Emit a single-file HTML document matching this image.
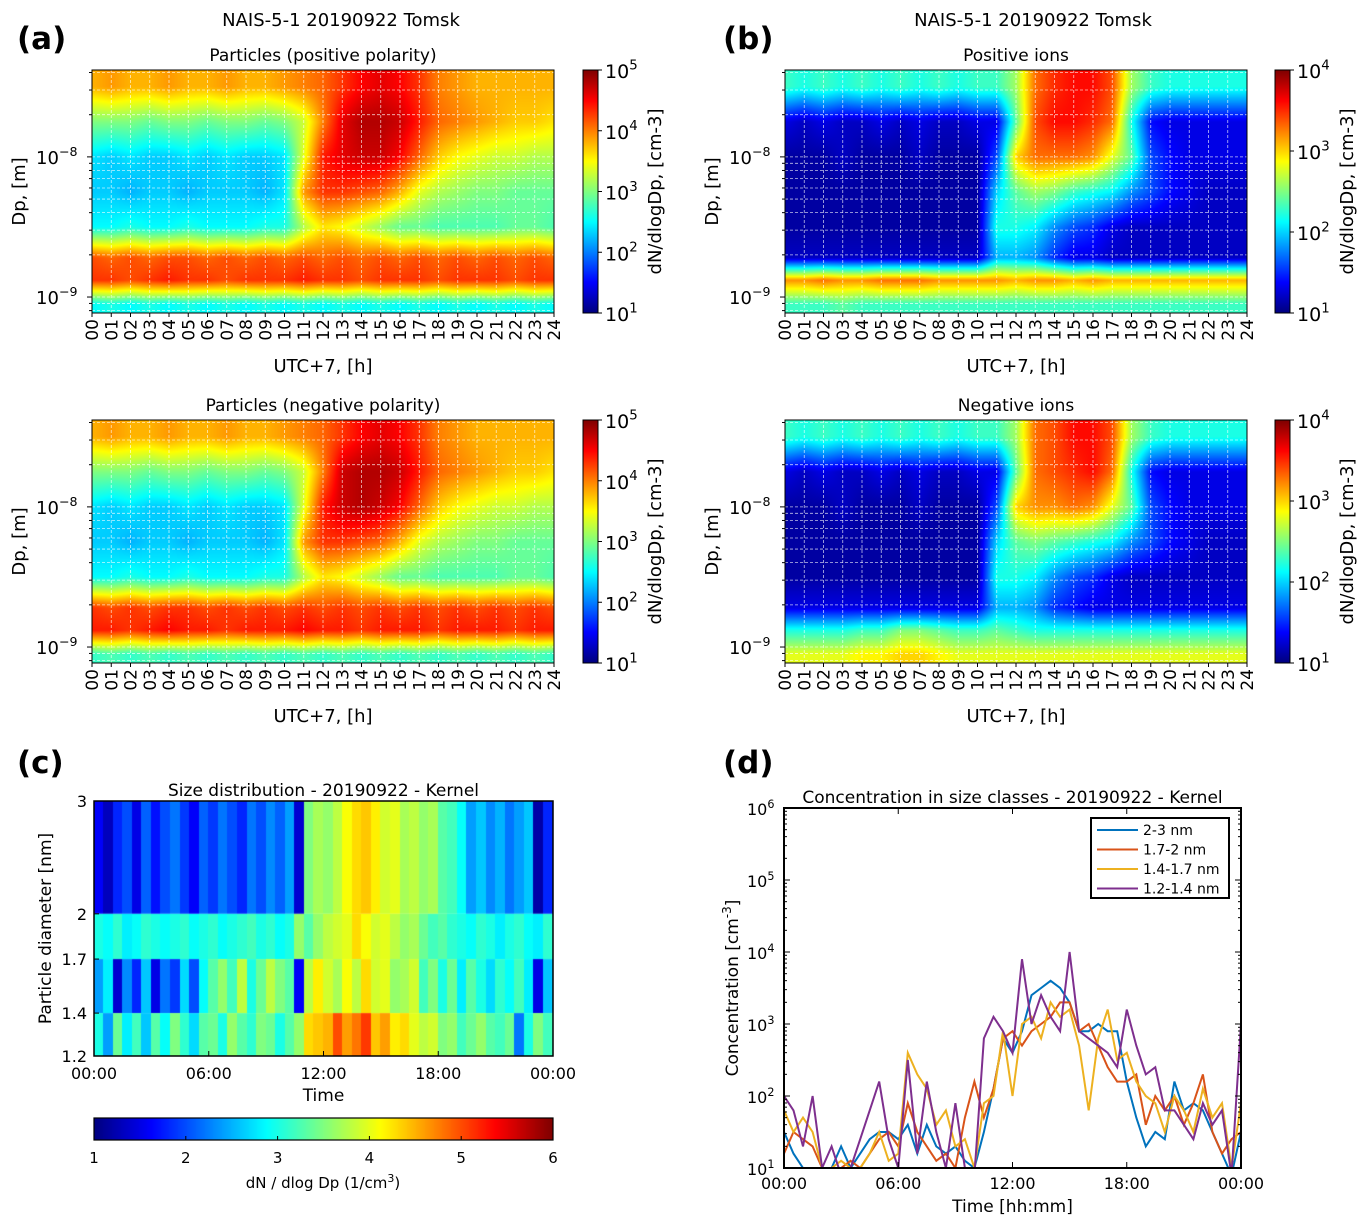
<!DOCTYPE html>
<html><head><meta charset="utf-8"><style>
html,body{margin:0;padding:0;background:#fff;}
#wrap{position:relative;width:1367px;height:1229px;overflow:hidden;font-family:"DejaVu Sans","Liberation Sans",sans-serif;}
canvas{position:absolute;}
svg{position:absolute;left:0;top:0;}
</style></head><body>
<div id="wrap">
<canvas id="hA1"></canvas>
<canvas id="hA2"></canvas>
<canvas id="hB1"></canvas>
<canvas id="hB2"></canvas>
<canvas id="hC"></canvas>
<canvas id="cbA1"></canvas>
<canvas id="cbA2"></canvas>
<canvas id="cbB1"></canvas>
<canvas id="cbB2"></canvas>
<canvas id="cbC"></canvas>
<svg id="ov" width="1367" height="1229" xmlns="http://www.w3.org/2000/svg"></svg>
</div>
<script>
const hours = [0,1,2,3,4,5,6,7,8,9,10,11,12,13,14,15,16,17,18,19,20,21,22,23,24];
const sizeRowsLog = [-7.5,-7.75,-8.0,-8.25,-8.5,-8.72,-8.88,-9.05];
const A1 = [
[3.8,3.9,3.8,3.8,3.9,3.8,3.8,3.9,3.8,3.8,3.9,4.0,4.1,4.3,4.5,4.6,4.5,4.3,4.0,3.9,3.8,3.8,3.8,3.8,3.8],
[3.0,3.0,3.0,2.9,3.0,3.0,2.9,3.0,3.0,2.9,3.0,3.3,4.0,4.6,4.8,4.8,4.7,4.4,4.1,4.0,3.9,3.8,3.7,3.7,3.6],
[2.4,2.3,2.4,2.3,2.3,2.4,2.3,2.4,2.3,2.3,2.4,3.4,4.4,4.6,4.7,4.7,4.5,4.1,3.7,3.5,3.4,3.3,3.3,3.2,3.2],
[2.3,2.3,2.2,2.3,2.3,2.2,2.3,2.3,2.3,2.2,2.4,3.9,4.3,4.3,4.2,4.1,3.8,3.4,3.2,3.1,3.0,3.0,2.9,2.9,2.9],
[2.5,2.5,2.6,2.5,2.5,2.6,2.5,2.5,2.5,2.6,2.6,3.2,3.6,3.5,3.3,3.1,2.9,2.9,2.8,2.8,2.8,2.8,2.9,2.9,2.8],
[4.2,4.1,4.2,4.1,4.2,4.2,4.1,4.2,4.1,4.2,4.1,4.2,4.1,4.2,4.1,4.2,4.1,4.2,4.1,4.2,4.1,4.2,4.1,4.2,4.1],
[4.3,4.3,4.2,4.3,4.4,4.3,4.3,4.2,4.3,4.3,4.3,4.4,4.3,4.3,4.2,4.3,4.3,4.3,4.2,4.3,4.3,4.3,4.2,4.3,4.3],
[2.5,2.6,2.5,2.6,2.5,2.6,2.5,2.6,2.5,2.6,2.5,2.6,2.5,2.6,2.5,2.6,2.5,2.6,2.5,2.6,2.5,2.6,2.5,2.6,2.5]];
const A2 = [
[3.8,3.9,3.8,3.8,3.9,3.8,3.8,3.9,3.8,3.8,3.9,4.0,4.1,4.3,4.5,4.6,4.5,4.3,4.0,3.9,3.8,3.8,3.8,3.8,3.8],
[3.0,3.0,3.0,2.9,3.0,3.0,2.9,3.0,3.0,2.9,3.0,3.3,4.0,4.7,4.8,4.8,4.7,4.4,4.1,4.0,3.9,3.8,3.7,3.7,3.6],
[2.4,2.3,2.4,2.3,2.3,2.4,2.3,2.4,2.3,2.3,2.4,3.4,4.4,4.7,4.8,4.7,4.5,4.1,3.7,3.5,3.4,3.3,3.3,3.2,3.2],
[2.3,2.3,2.2,2.3,2.3,2.2,2.3,2.3,2.3,2.2,2.4,3.9,4.3,4.3,4.2,4.1,3.8,3.4,3.2,3.1,3.0,3.0,2.9,2.9,2.9],
[2.5,2.5,2.6,2.5,2.5,2.6,2.5,2.5,2.5,2.6,2.6,3.2,3.6,3.5,3.3,3.1,2.9,2.9,2.8,2.8,2.8,2.8,2.9,2.9,2.8],
[4.3,4.2,4.3,4.2,4.3,4.3,4.2,4.3,4.2,4.3,4.2,4.3,4.2,4.3,4.2,4.3,4.2,4.3,4.2,4.3,4.2,4.3,4.2,4.3,4.2],
[4.4,4.4,4.3,4.4,4.5,4.4,4.4,4.3,4.4,4.4,4.4,4.5,4.4,4.4,4.3,4.4,4.4,4.4,4.3,4.4,4.4,4.4,4.3,4.4,4.4],
[2.7,2.8,2.7,2.8,2.7,2.8,2.7,2.8,2.7,2.8,2.7,2.8,2.7,2.8,2.7,2.8,2.7,2.8,2.7,2.8,2.7,2.8,2.7,2.8,2.7]];
const B1 = [
[2.3,2.2,2.3,2.2,2.3,2.2,2.3,2.2,2.3,2.2,2.3,2.3,2.6,3.3,3.5,3.6,3.6,3.4,2.6,2.3,2.2,2.2,2.2,2.2,2.2],
[1.3,1.2,1.3,1.2,1.2,1.3,1.2,1.3,1.2,1.2,1.3,1.3,2.4,3.4,3.6,3.6,3.5,3.3,2.2,1.4,1.3,1.3,1.3,1.3,1.3],
[1.1,1.1,1.1,1.2,1.1,1.1,1.1,1.2,1.1,1.1,1.1,1.6,3.0,3.3,3.3,3.3,3.2,2.8,2.4,1.6,1.4,1.3,1.3,1.3,1.3],
[1.1,1.1,1.1,1.1,1.1,1.1,1.1,1.1,1.1,1.1,1.1,2.0,2.4,2.6,2.5,2.3,2.2,2.1,1.8,1.6,1.4,1.3,1.2,1.2,1.2],
[1.1,1.1,1.1,1.1,1.1,1.1,1.1,1.1,1.1,1.1,1.1,2.2,2.2,2.1,1.8,1.6,1.5,1.3,1.2,1.2,1.2,1.2,1.2,1.2,1.2],
[1.2,1.2,1.2,1.2,1.2,1.2,1.2,1.2,1.2,1.2,1.2,1.9,1.9,1.8,1.5,1.3,1.3,1.2,1.2,1.2,1.2,1.2,1.2,1.2,1.2],
[3.2,3.2,3.3,3.2,3.2,3.3,3.3,3.3,3.2,3.2,3.2,3.2,3.1,3.2,3.2,3.1,3.2,3.1,3.1,3.1,3.1,3.1,3.1,3.1,3.1],
[2.3,2.3,2.3,2.4,2.3,2.3,2.3,2.3,2.3,2.3,2.3,2.3,2.3,2.3,2.3,2.3,2.3,2.3,2.3,2.3,2.3,2.3,2.3,2.3,2.3]];
const B2 = [
[2.3,2.2,2.3,2.2,2.3,2.2,2.3,2.2,2.3,2.2,2.3,2.3,2.6,3.3,3.4,3.6,3.6,3.4,2.6,2.3,2.2,2.2,2.2,2.2,2.2],
[1.3,1.2,1.3,1.2,1.2,1.3,1.2,1.3,1.2,1.2,1.3,1.3,2.4,3.3,3.4,3.5,3.6,3.3,2.2,1.4,1.3,1.3,1.3,1.3,1.3],
[1.1,1.1,1.1,1.2,1.1,1.1,1.1,1.2,1.1,1.1,1.1,1.6,3.0,3.2,3.2,3.3,3.2,2.8,2.4,1.6,1.4,1.3,1.3,1.3,1.3],
[1.1,1.1,1.1,1.1,1.1,1.1,1.1,1.1,1.1,1.1,1.1,2.0,2.4,2.5,2.4,2.3,2.2,2.1,1.8,1.6,1.4,1.3,1.2,1.2,1.2],
[1.1,1.1,1.1,1.1,1.1,1.1,1.1,1.1,1.1,1.1,1.1,2.2,2.2,2.1,1.8,1.6,1.5,1.3,1.2,1.2,1.2,1.2,1.2,1.2,1.2],
[1.3,1.3,1.3,1.3,1.3,1.3,1.3,1.3,1.3,1.3,1.3,1.9,1.9,1.8,1.5,1.4,1.3,1.3,1.3,1.3,1.3,1.3,1.3,1.3,1.3],
[2.2,2.2,2.2,2.2,2.3,2.3,2.5,2.5,2.4,2.3,2.3,2.4,2.3,2.2,2.2,2.2,2.2,2.2,2.2,2.2,2.2,2.2,2.2,2.2,2.2],
[2.8,2.8,2.8,2.8,2.9,2.9,3.0,3.0,2.9,2.8,2.8,2.8,2.8,2.8,2.8,2.8,2.8,2.8,2.8,2.8,2.8,2.8,2.8,2.8,2.8]];
const cEdges = [3,2,1.7,1.4,1.2];
const C = [
[1.6,1.3,1.8,2.0,1.5,2.1,1.7,2.0,2.2,1.9,1.6,2.1,1.9,2.2,2.0,1.8,2.2,2.0,2.3,2.1,2.4,1.4,3.5,3.7,3.6,3.8,4.1,4.3,4.4,4.2,3.9,4.0,3.7,3.8,3.6,3.7,3.3,3.2,2.9,2.4,2.6,2.3,2.5,2.2,2.4,2.6,1.2,1.8],
[3.0,2.9,3.1,2.8,2.9,3.1,3.0,2.9,3.0,3.1,2.9,3.0,3.1,2.9,3.0,3.1,3.2,3.0,3.1,2.9,3.0,3.6,3.3,3.6,3.8,3.9,4.0,4.3,4.1,3.9,4.0,3.8,3.6,3.7,3.4,3.2,3.3,3.1,3.0,2.9,3.1,3.0,2.8,3.0,3.1,2.9,2.8,3.1],
[2.4,2.8,1.4,2.3,1.8,2.6,1.5,2.2,1.9,2.7,2.0,2.9,3.3,3.6,3.2,3.8,3.0,3.4,3.8,3.5,3.3,1.6,3.8,4.2,3.9,3.7,4.1,3.8,4.3,3.9,4.0,3.6,3.7,3.9,3.2,3.5,3.0,3.4,2.8,3.3,3.0,2.7,3.1,2.9,3.2,2.8,1.5,2.6],
[3.0,2.4,3.4,2.8,3.2,2.6,3.3,2.9,3.5,3.1,2.7,3.3,3.4,3.0,3.6,3.3,3.1,3.5,3.4,3.0,3.3,3.6,4.3,4.4,4.5,5.0,4.6,4.8,5.1,4.4,4.6,4.2,4.3,4.0,3.8,3.9,3.5,3.6,3.2,3.4,3.6,3.3,3.2,3.4,2.2,3.0,3.5,3.2]];
const dTimes = [0,0.5,1,1.5,2,2.5,3,3.5,4,4.5,5,5.5,6,6.5,7,7.5,8,8.5,9,9.5,10,10.5,11,11.5,12,12.5,13,13.5,14,14.5,15,15.5,16,16.5,17,17.5,18,18.5,19,19.5,20,20.5,21,21.5,22,22.5,23,23.5,24];
const s23 = [1.5,1.2,1.0,1.0,0.9,1.0,1.3,1.0,1.2,1.4,1.5,1.5,1.4,1.6,1.2,1.6,1.3,1.2,1.3,1.1,1.0,1.5,2.1,2.8,2.6,2.9,3.4,3.5,3.6,3.5,3.3,2.9,2.9,3.0,2.9,2.9,2.2,1.7,1.3,1.5,1.4,2.2,1.8,1.9,1.8,1.5,1.2,0.9,1.5];
const s172 = [1.2,1.5,1.4,1.3,1.0,1.0,1.0,1.1,1.0,1.2,1.4,1.5,1.3,1.9,1.5,1.3,1.1,1.2,1.0,1.7,2.2,1.7,2.1,2.8,2.9,2.7,2.9,3.0,3.1,3.3,3.3,2.9,3.0,2.7,2.4,2.2,2.2,2.3,1.6,2.0,1.8,2.0,1.6,1.9,2.3,1.5,1.2,1.4,1.5];
const s1417 = [1.8,1.5,1.7,1.5,1.0,1.0,1.1,1.0,1.0,1.2,1.5,1.1,1.2,2.6,2.3,2.1,1.6,1.8,1.3,1.4,1.0,1.9,2.0,2.9,2.0,3.0,3.1,2.8,3.3,3.1,3.2,2.7,1.8,2.8,3.2,2.5,2.6,2.2,2.0,1.9,1.5,2.0,1.8,1.5,2.1,1.7,1.9,1.0,1.9];
const s1214 = [2.0,1.8,1.3,2.0,1.0,1.3,0.9,1.0,1.4,1.8,2.2,1.4,1.0,2.5,1.2,2.2,1.5,1.0,1.9,1.0,0.9,2.8,3.1,2.9,2.6,3.9,3.0,3.4,3.1,2.9,4.0,2.9,2.8,2.7,2.6,2.4,3.2,2.7,2.3,2.4,1.8,1.8,1.6,1.4,1.9,1.6,1.8,0.9,3.0];
function jet(t){t=Math.max(0,Math.min(1,t));const c=v=>Math.round(255*Math.max(0,Math.min(1,v)));
 return [c(1.5-Math.abs(4*t-3)),c(1.5-Math.abs(4*t-2)),c(1.5-Math.abs(4*t-1))];}
function place(id,x,y,w,h){const c=document.getElementById(id);c.width=w;c.height=h;c.style.left=x+'px';c.style.top=y+'px';return c;}
function smoothHeat(id,x,y,w,h,data,vmin,vmax,topLog,botLog){
 const c=place(id,x,y,w,h),ctx=c.getContext('2d');
 const ncol=hours.length,nrow=sizeRowsLog.length;
 const im=ctx.createImageData(w,h);
 const xs=hx=>(hx/24)*(ncol-1);
 for(let py=0;py<h;py++){
  const lg=topLog-(py+0.5)/h*(topLog-botLog);
  let r=0;while(r<nrow-2&&lg<sizeRowsLog[r+1])r++;
  let fr=(sizeRowsLog[r]-lg)/(sizeRowsLog[r]-sizeRowsLog[r+1]);fr=Math.max(0,Math.min(1,fr));
  for(let px=0;px<w;px++){
   const hx=(px+0.5)/w*24;let cc=Math.min(ncol-2,Math.floor(xs(hx)));let fc=xs(hx)-cc;
   const v=(data[r][cc]*(1-fc)+data[r][cc+1]*fc)*(1-fr)+(data[r+1][cc]*(1-fc)+data[r+1][cc+1]*fc)*fr;
   const col=jet((v-vmin)/(vmax-vmin));const i=(py*w+px)*4;
   im.data[i]=col[0];im.data[i+1]=col[1];im.data[i+2]=col[2];im.data[i+3]=255;}}
 ctx.putImageData(im,0,0);}
function cbar(id,x,y,w,h,vertical){const c=place(id,x,y,w,h),ctx=c.getContext('2d');
 if(vertical){for(let py=0;py<h;py++){const k=jet(1-py/(h-1));ctx.fillStyle=`rgb(${k})`;ctx.fillRect(0,py,w,1);}}
 else{for(let px=0;px<w;px++){const k=jet(px/(w-1));ctx.fillStyle=`rgb(${k})`;ctx.fillRect(px,0,1,h);}}}
const NS='http://www.w3.org/2000/svg',ov=document.getElementById('ov');
function el(tag,attrs,parent){const e=document.createElementNS(NS,tag);for(const k in attrs)e.setAttribute(k,attrs[k]);(parent||ov).appendChild(e);return e;}
function txt(x,y,s,size,anchor,name,extra){const t=el('text',Object.assign({x:x,y:y,'font-size':size,'text-anchor':anchor||'middle',fill:'#000'},extra||{}));t.textContent=s;
 
 
 return t;}
function pow10(x,y,exp,size,anchor,name){const t=el('text',{x:x,y:y,'font-size':size,'text-anchor':anchor||'start',fill:'#000'});
 
 
 const a=el('tspan',{},t);a.textContent='10';const b=el('tspan',{dy:-size*0.45,'font-size':size*0.7},t);b.textContent=exp;return t;}
const panels=[
 {id:'A1',data:A1,x:92,y:70,vmin:1,vmax:5,cb:'cbA1',cx:583,title:'Particles (positive polarity)'},
 {id:'A2',data:A2,x:92,y:420,vmin:1,vmax:5,cb:'cbA2',cx:583,title:'Particles (negative polarity)'},
 {id:'B1',data:B1,x:785,y:70,vmin:1,vmax:4,cb:'cbB1',cx:1275,title:'Positive ions'},
 {id:'B2',data:B2,x:785,y:420,vmin:1,vmax:4,cb:'cbB2',cx:1275,title:'Negative ions'}];
const W=462,H=243,topLog=-7.38,botLog=-9.114;
panels.forEach(p=>{
 smoothHeat('h'+p.id,p.x,p.y,W,H,p.data,p.vmin,p.vmax,topLog,botLog);
 cbar(p.cb,p.cx,p.y,15,H,true);
 const ys=lg=>p.y+(topLog-lg)/(topLog-botLog)*H;
 const g=el('g',{});
 
 
 hours.forEach(hh=>{const x=p.x+hh/24*W;el('line',{x1:x,x2:x,y1:p.y,y2:p.y+H,stroke:'#fff','stroke-width':0.8,'stroke-dasharray':'3,2',opacity:0.75},g);
  el('line',{x1:x,x2:x,y1:p.y+H,y2:p.y+H+4,stroke:'#000','stroke-width':1});
  txt(0,0,String(hh).padStart(2,'0'),17,'end','x-tick-label',{transform:`translate(${x+6},${p.y+H+6}) rotate(-90)`});});
 for(let d=-10;d<=-7;d++)for(let m=1;m<10;m++){const lg=d+Math.log10(m);if(lg>topLog||lg<botLog)continue;const y=ys(lg);
  el('line',{x1:p.x,x2:p.x+W,y1:y,y2:y,stroke:'#fff','stroke-width':0.8,'stroke-dasharray':'3,2',opacity:0.75},g);
  el('line',{x1:p.x-(m==1?5:3),x2:p.x,y1:y,y2:y,stroke:'#000','stroke-width':1});}
 [-8,-9].forEach(e=>pow10(p.x-56,ys(e)+7,'−'+(-e),18,'start','y-tick-label'));
 el('rect',{x:p.x,y:p.y,width:W,height:H,fill:'none',stroke:'#000','stroke-width':1});
 el('rect',{x:p.cx,y:p.y,width:15,height:H,fill:'none',stroke:'#000','stroke-width':1});
 const n=p.vmax-p.vmin;for(let i=0;i<=n;i++){const y=p.y+H-i*H/n;pow10(p.cx+22,y+8,String(p.vmin+i),19,'start','colorbar-tick-label');
  el('line',{x1:p.cx+15,x2:p.cx+19,y1:y,y2:y,stroke:'#000'});}
 txt(p.x+W/2,p.y-9,p.title,17,'middle','panel-title');
 txt(p.x+W/2,p.y+H+59,'UTC+7, [h]',18,'middle','x-axis-title');
 txt(0,0,'Dp, [m]',18,'middle','y-axis-title',{transform:`translate(${p.x-67},${p.y+H/2}) rotate(-90)`});
 txt(0,0,'dN/dlogDp, [cm-3]',18,'middle','colorbar-title',{transform:`translate(${p.cx+78},${p.y+H/2}) rotate(-90)`});
});
txt(341,26,'NAIS-5-1 20190922 Tomsk',18,'middle','figure-title-a');
txt(1033,26,'NAIS-5-1 20190922 Tomsk',18,'middle','figure-title-b');
txt(17,49,'(a)',31,'start','panel-label-a',{'font-weight':'bold'});
txt(723,49,'(b)',31,'start','panel-label-b',{'font-weight':'bold'});
txt(17,773,'(c)',31,'start','panel-label-c',{'font-weight':'bold'});
txt(723,773,'(d)',31,'start','panel-label-d',{'font-weight':'bold'});
(function(){const x0=94,y0=801,w=459,h=255;const c=place('hC',x0,y0,w,h),ctx=c.getContext('2d');
 const lmax=Math.log10(3),lmin=Math.log10(1.2),ys=v=>(lmax-Math.log10(v))/(lmax-lmin)*h;
 const n=C[0].length;
 C.forEach((row,r)=>{const ya=ys(cEdges[r]),yb=ys(cEdges[r+1]);row.forEach((v,i)=>{const k=jet((v-1)/5);ctx.fillStyle=`rgb(${k})`;
  const xa=Math.floor(i*w/n),xb=Math.floor((i+1)*w/n);ctx.fillRect(xa,ya,xb-xa,yb-ya);});});
 el('rect',{x:x0,y:y0,width:w,height:h,fill:'none',stroke:'#000','stroke-width':1.5});
 cEdges.forEach(v=>{const y=y0+ys(v);txt(x0-7,y+6,String(v),16,'end','y-tick-label');el('line',{x1:x0,x2:x0+5,y1:y,y2:y,stroke:'#000'});});
 ['00:00','06:00','12:00','18:00','00:00'].forEach((s,i)=>{const x=x0+i*w/4;txt(x,y0+h+23,s,16,'middle','x-tick-label');el('line',{x1:x,x2:x,y1:y0+h,y2:y0+h-5,stroke:'#000'});});
 txt(x0+w/2,y0+h+45,'Time',17,'middle','x-axis-title');
 txt(x0+w/2,y0-5,'Size distribution - 20190922 - Kernel',17,'middle','panel-title');
 txt(0,0,'Particle diameter [nm]',17,'middle','y-axis-title',{transform:`translate(51,${y0+h/2}) rotate(-90)`});
 cbar('cbC',94,1118,459,22,false);
 el('rect',{x:94,y:1118,width:459,height:22,fill:'none',stroke:'#000','stroke-width':1.2});
 for(let i=1;i<=6;i++){const x=94+(i-1)*459/5;txt(x,1163,String(i),15,'middle','colorbar-tick-label');el('line',{x1:x,x2:x,y1:1140,y2:1136,stroke:'#000'});}
 const t=txt(323,1188,'dN / dlog Dp (1/cm',15,'middle','colorbar-title');const sp=el('tspan',{dy:-6,'font-size':11},t);sp.textContent='3';const sp2=el('tspan',{dy:6},t);sp2.textContent=')';
})();
(function(){const x0=784,y0=808,w=457,h=360;
 const xs=t=>x0+t/24*w, ys=v=>y0+h-(v-1)/5*h;
 const cp=el('clipPath',{id:'dclip'});el('rect',{x:x0,y:y0,width:w,height:h},cp);
 const series=[[s23,'#0072BD','2-3 nm'],[s172,'#D95319','1.7-2 nm'],[s1417,'#EDB120','1.4-1.7 nm'],[s1214,'#7E2F8E','1.2-1.4 nm']];
 series.forEach(([s,col,lab])=>{const d=s.map((v,i)=>(i?'L':'M')+xs(dTimes[i]).toFixed(1)+','+ys(v).toFixed(1)).join('');
  const pth=el('path',{d:d,fill:'none',stroke:col,'stroke-width':2,'clip-path':'url(#dclip)'});
  
  });
 el('rect',{x:x0,y:y0,width:w,height:h,fill:'none',stroke:'#000','stroke-width':2});
 for(let e=1;e<=6;e++){const y=ys(e);pow10(x0-37,y+7,String(e),16,'start','y-tick-label');
  el('line',{x1:x0,x2:x0+6,y1:y,y2:y,stroke:'#000'});el('line',{x1:x0+w,x2:x0+w-6,y1:y,y2:y,stroke:'#000'});
  if(e<6)for(let m=2;m<10;m++){const yy=ys(e+Math.log10(m));el('line',{x1:x0,x2:x0+3,y1:yy,y2:yy,stroke:'#000'});el('line',{x1:x0+w,x2:x0+w-3,y1:yy,y2:yy,stroke:'#000'});}}
 ['00:00','06:00','12:00','18:00','00:00'].forEach((s,i)=>{const x=x0+i*w/4;txt(x,y0+h+21,s,16,'middle','x-tick-label');
  el('line',{x1:x,x2:x,y1:y0+h,y2:y0+h-6,stroke:'#000'});el('line',{x1:x,x2:x,y1:y0,y2:y0+6,stroke:'#000'});});
 txt(x0+w/2,y0+h+44,'Time [hh:mm]',17,'middle','x-axis-title');
 txt(x0+w/2,y0-5,'Concentration in size classes - 20190922 - Kernel',17,'middle','panel-title');
 const yt=txt(0,0,'Concentration [cm',17,'middle','y-axis-title',{transform:`translate(738,${y0+h/2}) rotate(-90)`});
 const a=el('tspan',{dy:-7,'font-size':12},yt);a.textContent='-3';const b=el('tspan',{dy:7},yt);b.textContent=']';
 const lg=el('g',{});
 
 
 el('rect',{x:1091,y:818,width:138,height:80,fill:'#fff',stroke:'#000','stroke-width':2},lg);
 series.forEach(([s,col,lab],i)=>{const y=830+i*19.5;el('line',{x1:1097,x2:1138,y1:y,y2:y,stroke:col,'stroke-width':2},lg);
  const t=txt(1143,y+5,lab,14,'start','legend-entry');lg.appendChild(t);});
})();
</script>
</body></html>
